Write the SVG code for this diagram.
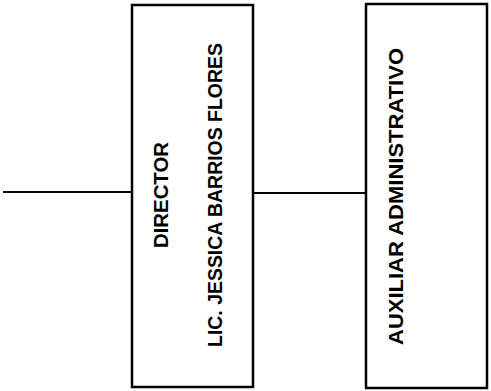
<svg xmlns="http://www.w3.org/2000/svg" width="491" height="391" viewBox="0 0 491 391">
<style>
.box{fill:#fff;stroke:#000;stroke-width:2.5}
.lbl{font-family:"Liberation Sans",Arial,sans-serif;font-weight:bold;font-size:20px;fill:#000;text-anchor:middle}
.conn{stroke:#000;stroke-width:2;fill:none}
</style>
<rect width="491" height="391" fill="#fff"/>
<g id="connectors">
<line class="conn" x1="3" y1="192" x2="132" y2="192"/>
<line class="conn" x1="253" y1="193" x2="366" y2="193"/>
</g>
<g id="director">
<rect class="box" x="132" y="5" width="121" height="382"/>
<text class="lbl" transform="translate(168,195) rotate(-90)" textLength="106" lengthAdjust="spacingAndGlyphs">DIRECTOR</text>
<text class="lbl" transform="translate(222,195) rotate(-90)" textLength="304" lengthAdjust="spacingAndGlyphs">LIC. JESSICA BARRIOS FLORES</text>
</g>
<g id="auxiliar">
<rect class="box" x="366" y="4" width="121" height="384"/>
<text class="lbl" transform="translate(403,196.5) rotate(-90)" textLength="297" lengthAdjust="spacingAndGlyphs">AUXILIAR ADMINISTRATIVO</text>
</g>
</svg>
